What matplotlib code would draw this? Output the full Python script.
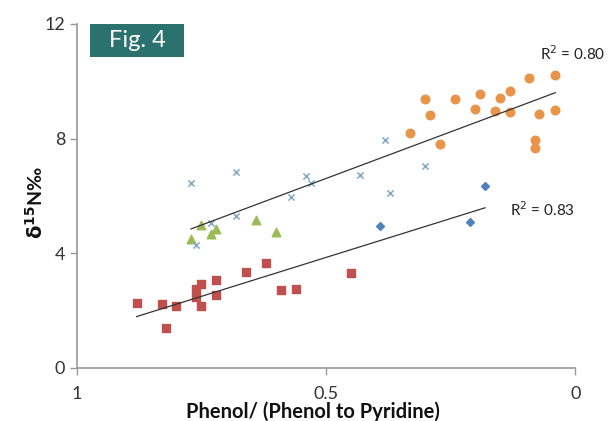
import matplotlib
matplotlib.use("Agg")
from matplotlib import pyplot as plt
from matplotlib.patches import Rectangle
import numpy as np

plt.rcParams['font.family'] = ['Lato', 'DejaVu Sans']

# data
red_x = [0.880, 0.830, 0.821, 0.801, 0.760, 0.760, 0.750, 0.750, 0.721, 0.721,
         0.661, 0.620, 0.591, 0.561, 0.450]
red_y = [2.26, 2.21, 1.39, 2.16, 2.74, 2.48, 2.93, 2.14, 3.06, 2.53,
         3.32, 3.66, 2.71, 2.76, 3.31]

blue_x = [0.392, 0.211, 0.181]
blue_y = [4.95, 5.09, 6.34]

green_x = [0.771, 0.751, 0.731, 0.721, 0.641, 0.600]
green_y = [4.50, 4.98, 4.66, 4.84, 5.14, 4.72]

cyan_x = [0.770, 0.681, 0.540, 0.531, 0.571, 0.681, 0.731, 0.760, 0.432, 0.382,
          0.371, 0.301]
cyan_y = [6.46, 6.83, 6.69, 6.44, 5.95, 5.31, 5.06, 4.27, 6.73, 7.94,
          6.09, 7.05]

orange_x = [0.301, 0.241, 0.191, 0.151, 0.131, 0.092, 0.040, 0.291, 0.201, 0.161,
            0.131, 0.072, 0.040, 0.331, 0.271, 0.081, 0.081]
orange_y = [9.38, 9.38, 9.56, 9.41, 9.66, 10.12, 10.21, 8.83, 9.02, 8.95,
            8.91, 8.87, 8.99, 8.20, 7.82, 7.94, 7.67]

# trend line end points (as drawn)
upper_x = [0.771, 0.040]
upper_y = [4.84, 9.60]
lower_x = [0.880, 0.181]
lower_y = [1.78, 5.58]

r2_labels = ["R$^2$ = 0.80", "R$^2$ = 0.83"]

fig = plt.figure(figsize=(6.1, 4.21), dpi=100)
ax = fig.add_axes([0.126, 0.127, 0.817, 0.816])

ax.scatter(red_x, red_y, marker='s', s=36, color='#c0504d', zorder=3)
ax.scatter(blue_x, blue_y, marker='D', s=16, color='#4f81bd', zorder=3)
ax.scatter(green_x, green_y, marker='^', s=38, color='#9bbb59', zorder=3)
ax.scatter(cyan_x, cyan_y, marker='x', s=20, color='#7fa9c4', linewidths=1.1, zorder=3)
ax.scatter(orange_x, orange_y, marker='o', s=38, color='#e8944a', zorder=3)

ax.plot(upper_x, upper_y, color='#333333', lw=0.9, zorder=4)
ax.plot(lower_x, lower_y, color='#333333', lw=0.9, zorder=4)

ax.text(0.070, 10.98, r2_labels[0], fontsize=11, color='#222222',
        ha='left', va='center', clip_on=False)
ax.text(0.1305, 5.50, r2_labels[1], fontsize=11, color='#222222',
        ha='left', va='center')

ax.set_xlim(1, 0)
ax.set_ylim(0, 12)
ax.set_xticks([1, 0.5, 0])
ax.set_xticklabels(['1', '0.5', '0'])
ax.set_yticks([0, 4, 8, 12])

for side in ['top', 'right']:
    ax.spines[side].set_visible(False)
for side in ['left', 'bottom']:
    ax.spines[side].set_color('#999999')
    ax.spines[side].set_linewidth(1.2)
ax.tick_params(colors='#999999', labelcolor='#333333', labelsize=13,
               length=5, width=1.0, direction='out')
ax.tick_params(axis='x', pad=8)

fig.text(0.513, 0.021, 'Phenol/ (Phenol to Pyridine)', fontsize=14.5,
         fontweight='bold', color='#111111', ha='center', va='center')
fig.text(0.057, 0.518, r'$\mathbf{\delta}^{\mathbf{15}}$N‰', fontsize=14,
         fontweight='bold', color='#111111', ha='center', va='center',
         rotation=90)

# Fig. 4 box
fig.add_artist(Rectangle((0.1475, 0.8646), 0.154, 0.0784, transform=fig.transFigure,
                         facecolor='#2b726f', edgecolor='none'))
fig.text(0.2246, 0.9038, 'Fig. 4', fontsize=17, color='white', ha='center', va='center')

fig.savefig('out.png', dpi=100)
